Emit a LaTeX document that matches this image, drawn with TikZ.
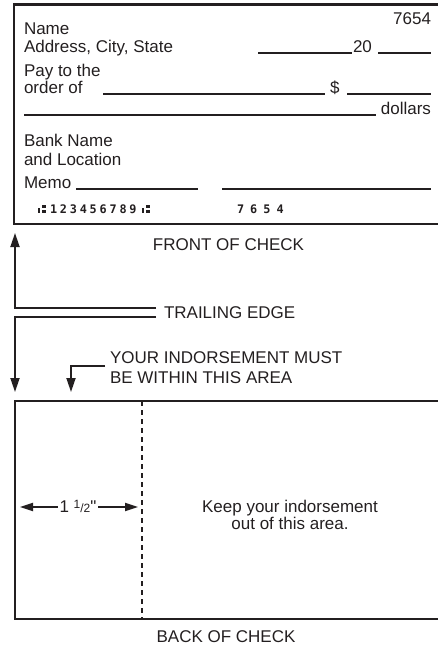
\documentclass[tikz,border=0pt]{standalone}
\usepackage{fontspec}
\setmainfont{Liberation Sans}
\newfontfamily\micrfont{DejaVu Sans Mono}
\usetikzlibrary{arrows.meta}
\definecolor{ink}{HTML}{231F20}
\tikzset{
  txt/.style={inner sep=0pt, outer sep=0pt, text=ink, font=\fontsize{17}{18}\selectfont},
  micra/.style={inner sep=0pt, outer sep=0pt, text=ink, font=\micrfont\bfseries\fontsize{11.8}{12}\selectfont\addfontfeature{LetterSpace=24}},
  micrb/.style={inner sep=0pt, outer sep=0pt, text=ink, font=\micrfont\bfseries\fontsize{11.8}{12}\selectfont\addfontfeature{LetterSpace=52}},
  boxline/.style={draw=ink, line width=2.1pt},
  fillline/.style={draw=ink, line width=1.5pt},
  conn/.style={draw=ink, line width=1.8pt},
  tip/.style={-{Triangle[length=14pt,width=9pt]}},
  dimtip/.style={-{Triangle[length=13pt,width=8pt]}},
  transit/.pic={
    \fill[ink] (0,-5.5) rectangle (2.4,0);
    \fill[ink] (4.2,-8.3) rectangle (8.3,-5.4);
    \fill[ink] (4.2,-3) rectangle (8.3,0);
  },
}
\begin{document}
\begin{tikzpicture}[x=1pt,y=-1pt]
\useasboundingbox (0,0) rectangle (438,647);
% front of check
\draw[boxline] (460,4.5) -- (14,4.5) -- (14,224) -- (460,224);
\node[txt, anchor=base east] (num) at (431,25) {7654};
\node[txt, anchor=base west] (name) at (24,35) {Name};
\node[txt, anchor=base west] (addr) at (24,53) {Address, City, State};
\coordinate (d1) at (258,53); \coordinate (d2) at (352,53);
\draw[fillline] (d1) -- (d2);
\node[txt, anchor=base west] (yr) at (353,53) {20};
\coordinate (d3) at (378,53); \coordinate (d4) at (431,53);
\draw[fillline] (d3) -- (d4);
\node[txt, anchor=base west] (pay) at (24,77) {Pay to the};
\node[txt, anchor=base west] (ord) at (24,94) {order of};
\coordinate (p1) at (103,94); \coordinate (p2) at (325,94);
\draw[fillline] (p1) -- (p2);
\node[txt, anchor=base west] (dol) at (330,94) {\$};
\coordinate (p3) at (347,94); \coordinate (p4) at (431,94);
\draw[fillline] (p3) -- (p4);
\coordinate (w1) at (24,115); \coordinate (w2) at (376,115);
\draw[fillline] (w1) -- (w2);
\node[txt, anchor=base east] (dollars) at (431,115) {dollars};
\node[txt, anchor=base west] (bank) at (24,147) {Bank Name};
\node[txt, anchor=base west] (loc) at (24,165) {and Location};
\node[txt, anchor=base west] (memo) at (24,189) {Memo};
\coordinate (m1) at (76,189); \coordinate (m2) at (198,189);
\draw[fillline] (m1) -- (m2);
\coordinate (s1) at (222,189); \coordinate (s2) at (431,189);
\draw[fillline] (s1) -- (s2);
\pic at (38,213) {transit};
\node[micra, anchor=base west] (routing) at (50,213) {123456789};
\pic at (142,213) {transit};
\node[micrb, anchor=base west] (chk) at (237,213) {7654};
\node[txt, anchor=base] (front) at (228.5,250) {FRONT OF CHECK};
% trailing edge
\node[txt, anchor=base west] (trail) at (164,318) {TRAILING EDGE};
\coordinate (t1) at (156,307.7); \coordinate (t1c) at (15,307.7);
\coordinate (uptip) at (15,233);
\draw[conn, tip] (t1) -- (t1c) -- (uptip);
\coordinate (t2) at (156,317.3); \coordinate (t2c) at (15,317.3);
\coordinate (dntip) at (15,392);
\draw[conn, tip] (t2) -- (t2c) -- (dntip);
% indorsement
\node[txt, anchor=base west] (ind1) at (110,363) {YOUR INDORSEMENT MUST};
\node[txt, anchor=base west] (ind2) at (110,383) {BE WITHIN THIS AREA};
\coordinate (i1) at (105,366); \coordinate (i1c) at (71,366);
\coordinate (itip) at (71,392);
\draw[conn, tip] (i1) -- (i1c) -- (itip);
% back of check
\draw[boxline] (460,401) -- (15,401) -- (15,619) -- (460,619);
\coordinate (dash1) at (142,401); \coordinate (dash2) at (142,619);
\draw[draw=ink, line width=1.4pt, dash pattern=on 5pt off 4pt] (dash1) -- (dash2);
\node[txt, anchor=base] (dim) at (78,512) {1 {\fontsize{12}{12}\selectfont\raisebox{4pt}{1}/2}\textquotedbl};
\coordinate (dl) at (20,507); \coordinate (dr) at (138,507);
\draw[conn, dimtip] (dim.west |- dl) ++(-2,0) -- (dl);
\draw[conn, dimtip] (dim.east |- dr) ++(2,0) -- (dr);
\node[txt, anchor=base] (keep) at (290,512) {Keep your indorsement};
\node[txt, anchor=base] (out) at (290,529) {out of this area.};
\node[txt, anchor=base] (back) at (226,642) {BACK OF CHECK};
\end{tikzpicture}
\end{document}
